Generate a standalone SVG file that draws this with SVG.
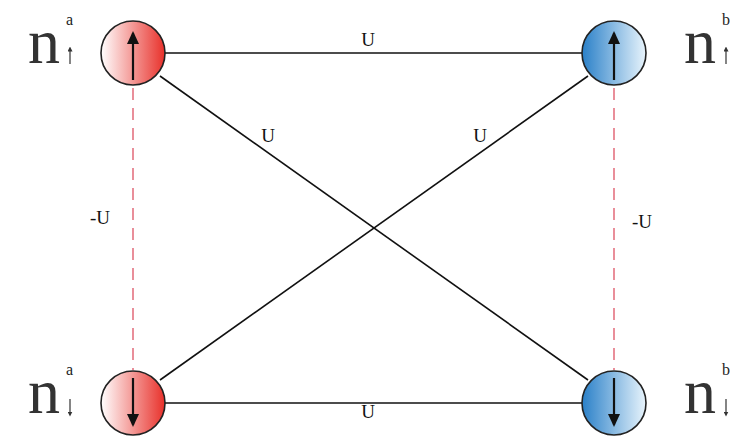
<svg xmlns="http://www.w3.org/2000/svg" width="742" height="439" viewBox="0 0 742 439">
<style>
.c{stroke:#222;stroke-width:1.6}
.l{stroke:#111;stroke-width:1.6;fill:none}
.d{stroke:#e06070;stroke-width:1.4;stroke-dasharray:12 8;fill:none}
.t{font-family:"Liberation Serif",serif;font-size:19px;fill:#111}
.n{font-family:"Liberation Serif",serif;font-size:64px;fill:#333}
.s{font-family:"Liberation Serif",serif;font-size:16px;fill:#222}
.ar{stroke:#111;stroke-width:2.2;fill:none}
.sa{stroke:#333;stroke-width:1.2;fill:none}
</style>
<defs>
<linearGradient id="red" x1="0" x2="1"><stop offset="0" stop-color="#fff"/><stop offset="1" stop-color="#e8302a"/></linearGradient>
<linearGradient id="blue" x1="0" x2="1"><stop offset="0" stop-color="#2a80c8"/><stop offset="1" stop-color="#e8f4fc"/></linearGradient>
<marker id="ah" markerWidth="13" markerHeight="12" refX="11" refY="6" orient="auto" markerUnits="userSpaceOnUse" viewBox="0 0 13 12"><path d="M0,0L13,6L0,12z" fill="#111"/></marker>
<marker id="sh" markerWidth="5" markerHeight="5" refX="2.5" refY="2.5" orient="auto" markerUnits="userSpaceOnUse" viewBox="0 0 5 5"><path d="M0,0L5,2.5L0,5z" fill="#333"/></marker>
</defs>
<g id="connectors">
<line class="l" x1="165" y1="53" x2="582" y2="53"/>
<line class="l" x1="165" y1="403" x2="582" y2="403"/>
<line class="l" x1="160" y1="76" x2="588" y2="380"/>
<line class="l" x1="160" y1="380" x2="588" y2="76"/>
<line class="d" x1="133" y1="88" x2="133" y2="370"/>
<line class="d" x1="614" y1="88" x2="614" y2="370"/>
<text class="t" x="368" y="46" text-anchor="middle">U</text>
<text class="t" x="368" y="418" text-anchor="middle">U</text>
<text class="t" x="268" y="142" text-anchor="middle">U</text>
<text class="t" x="480" y="142" text-anchor="middle">U</text>
<text class="t" x="100" y="224" text-anchor="middle">-U</text>
<text class="t" x="642" y="228" text-anchor="middle">-U</text>
</g>
<g id="a_up">
<circle class="c" cx="133" cy="53" r="32" fill="url(#red)"/>
<line class="ar" x1="133" y1="80" x2="133" y2="33" marker-end="url(#ah)"/>
<text class="n" x="28" y="63">n</text><text class="s" x="66" y="25">a</text>
<line class="sa" x1="70" y1="64" x2="70" y2="49" marker-end="url(#sh)"/>
</g>
<g id="b_up">
<circle class="c" cx="614" cy="53" r="32" fill="url(#blue)"/>
<line class="ar" x1="614" y1="80" x2="614" y2="33" marker-end="url(#ah)"/>
<text class="n" x="684" y="63">n</text><text class="s" x="722" y="25">b</text>
<line class="sa" x1="726" y1="64" x2="726" y2="49" marker-end="url(#sh)"/>
</g>
<g id="a_down">
<circle class="c" cx="133" cy="403" r="32" fill="url(#red)"/>
<line class="ar" x1="133" y1="378" x2="133" y2="425" marker-end="url(#ah)"/>
<text class="n" x="28" y="413">n</text><text class="s" x="66" y="375">a</text>
<line class="sa" x1="70" y1="399" x2="70" y2="414" marker-end="url(#sh)"/>
</g>
<g id="b_down">
<circle class="c" cx="614" cy="403" r="32" fill="url(#blue)"/>
<line class="ar" x1="614" y1="378" x2="614" y2="425" marker-end="url(#ah)"/>
<text class="n" x="684" y="413">n</text><text class="s" x="722" y="375">b</text>
<line class="sa" x1="726" y1="399" x2="726" y2="414" marker-end="url(#sh)"/>
</g>
</svg>
